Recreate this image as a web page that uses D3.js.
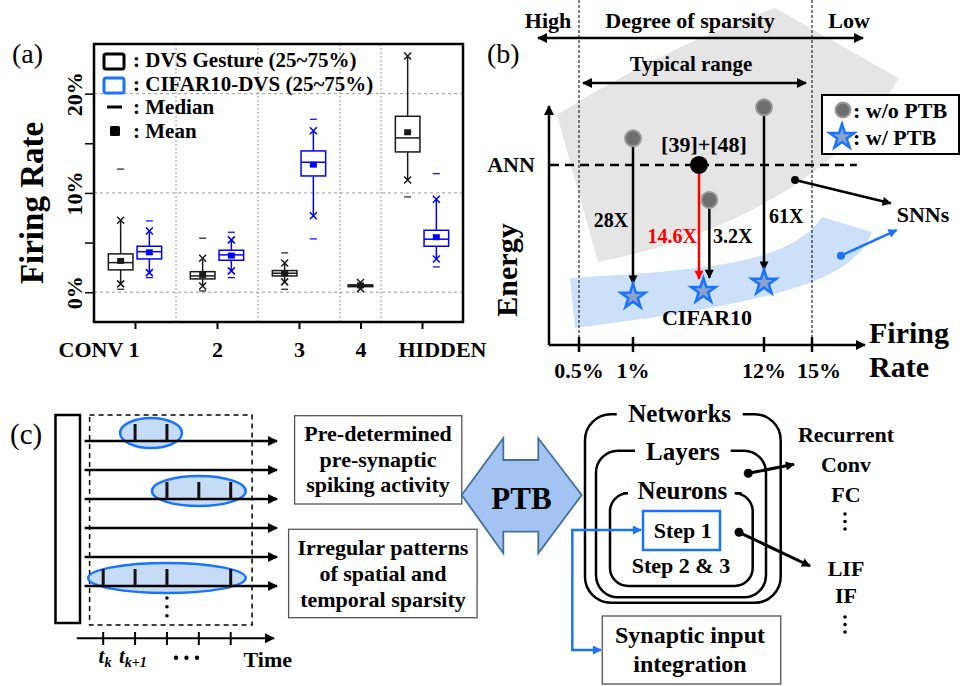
<!DOCTYPE html>
<html>
<head>
<meta charset="utf-8">
<script src="https://cdn.jsdelivr.net/npm/d3@7"></script>
<style>
  body { margin: 0; background: #fff; }
  svg text { font-family: "Liberation Serif", "Times New Roman", serif; }
</style>
</head>
<body>
<div id="chart"></div>
<script>
// ---------- panel (a): firing rate (%) per layer ----------
const layers = ["CONV 1", "2", "3", "4", "HIDDEN"];
const yTicksA = [0, 5, 10, 15, 20];
const yLabelsA = [0, 10, 20];
// per layer: [min dash, whisker low, q1, median, q3, whisker high, max dash, mean]
const dvsGesture = [
  [0.3, 0.84, 2.25, 2.98, 3.86, 7.25, 12.4, 3.15],
  [0.13, 0.63, 1.34, 1.64, 2.07, 3.42, 5.44, 1.74],
  [0.3, 1.04, 1.64, 1.91, 2.18, 2.95, 3.96, 1.91],
  [null, 0.36, 0.56, 0.65, 0.74, 0.97, null, 0.68],
  [9.6, 11.31, 14.13, 15.54, 17.72, 23.79, null, 16.11]
];
const cifar10Dvs = [
  [1.47, 1.97, 3.35, 4.08, 4.63, 6.17, 7.18, 4.02],
  [1.47, 2.15, 3.22, 3.76, 4.23, 5.27, 6.04, 3.69],
  [5.37, 7.71, 11.71, 13.09, 14.23, 16.27, 17.42, 12.85],
  null,
  [2.55, 3.35, 4.63, 5.34, 6.24, 9.37, 11.94, 5.54]
];

// ---------- panel (b): energy vs firing rate (schematic) ----------
const rateTicks = [0.5, 1, 12, 15];
const annEnergy = 7.6;
const priorWork = { rate: 6.54, energy: 7.6, label: "[39]+[48]" };
const withoutPTB = [{ rate: 1, energy: 8.72 }, { rate: 7.41, energy: 6.12 }, { rate: 12, energy: 10.03 }];
const withPTB = [{ rate: 1, energy: 2.04 }, { rate: 6.91, energy: 2.28 }, { rate: 12, energy: 2.63 }];
const gains = ["28X", "3.2X", "61X"];
const priorGain = "14.6X";
// band outlines in (rate, energy) units
const grayBand = [[0.296, 9.7], [3.27, 12.45], [12.69, 14.22], [20.4, 11.27], [18, 8.23], [11.66, 4.85], [0.676, 3.5]];
const blueBand = [[0.417, 2.83], [6.63, 3.16], [13.625, 3.38], [15.625, 5.4], [18.75, 4.77], [17.69, 2.95], [14.25, 1.9], [0.463, 0.72]];

// ---------- panel (c): spike raster + hierarchy ----------
const timeSteps = [0, 1, 2, 3, 4];
const spikeRows = [[1, 2], [], [2, 3, 4], [], [], [0, 1, 2, 4]];
const layerTypes = ["Recurrent", "Conv", "FC"];
const neuronTypes = ["LIF", "IF"];

const BLUE = "#1a73ff";

const svg = d3.select("#chart").append("svg")
  .attr("width", 962).attr("height", 686);

const defs = svg.append("defs");
function arrowMarker(id, color, len, wid) {
  defs.append("marker")
    .attr("id", id)
    .attr("viewBox", "0 0 10 10")
    .attr("refX", 9).attr("refY", 5)
    .attr("markerWidth", len).attr("markerHeight", wid)
    .attr("markerUnits", "userSpaceOnUse")
    .attr("orient", "auto-start-reverse")
    .append("path").attr("d", "M0,0L10,5L0,10Z").attr("fill", color);
}
arrowMarker("ab", "#000", 13, 10);
arrowMarker("abs", "#000", 11, 9);
arrowMarker("ar", "#ff0000", 11, 9);
arrowMarker("abl", BLUE, 11, 9);

function label(g, x, y, str, size, anchor, opt) {
  opt = opt || {};
  const t = g.append("text")
    .attr("x", x).attr("y", y)
    .attr("font-size", size)
    .attr("text-anchor", anchor || "middle")
    .attr("font-weight", opt.weight || "bold")
    .attr("fill", opt.fill || "#000")
    .text(str);
  if (opt.rotate) t.attr("transform", "rotate(" + opt.rotate + "," + x + "," + y + ")");
  return t;
}

function arrow(g, x1, y1, x2, y2, opt) {
  opt = opt || {};
  const l = g.append("line")
    .attr("x1", x1).attr("y1", y1).attr("x2", x2).attr("y2", y2)
    .attr("stroke", opt.color || "#000")
    .attr("stroke-width", opt.width || 2.5)
    .attr("marker-end", "url(#" + (opt.marker || "ab") + ")");
  if (opt.both) l.attr("marker-start", "url(#" + (opt.marker || "ab") + ")");
  return l;
}

// =================== PANEL (a) ===================
const gA = svg.append("g");
label(gA, 12, 63, "(a)", 28, "start", { weight: "normal" });

const series = [
  { name: "DVS Gesture", color: "#1a1a1a", values: dvsGesture },
  { name: "CIFAR10-DVS", color: "#0000ff", values: cifar10Dvs }
];
const slots = layers.map((l, i) => series.filter(s => s.values[i]).length);
const slotStart = [0];
slots.forEach((s, i) => slotStart.push(slotStart[i] + s));

const xA = d3.scaleLinear().domain([0, d3.sum(slots)]).range([94, 463]);
const yA = d3.scaleLinear().domain([-3, 25]).range([322, 44]);
const centers = layers.map((l, i) => slotStart[i] + slots[i] / 2);

// grid
gA.selectAll(".hgrid").data(yLabelsA).join("line")
  .attr("x1", xA(0)).attr("x2", xA(d3.sum(slots)))
  .attr("y1", d => yA(d)).attr("y2", d => yA(d))
  .attr("stroke", "#9a9a9a").attr("stroke-width", 1).attr("stroke-dasharray", "3,3");
gA.selectAll(".vgrid").data(slotStart.slice(1, -1)).join("line")
  .attr("x1", d => xA(d)).attr("x2", d => xA(d))
  .attr("y1", yA.range()[1]).attr("y2", yA.range()[0])
  .attr("stroke", "#9a9a9a").attr("stroke-width", 1).attr("stroke-dasharray", "2,2");

// axes
const xAxisA = d3.axisBottom(xA).tickValues(centers).tickSize(7).tickFormat((d, i) => layers[i]);
const gx = gA.append("g").attr("transform", "translate(0,322)").call(xAxisA);
gx.select(".domain").remove();
gx.selectAll("line").attr("stroke", "#000").attr("stroke-width", 2);
gx.selectAll("text")
  .attr("y", 35).attr("dy", 0)
  .attr("font-size", 22).attr("font-weight", "bold").attr("fill", "#000");
gx.selectAll("text").filter((d, i) => i === 0).attr("text-anchor", "end").attr("dx", 4);
gx.selectAll("text").filter((d, i) => i === layers.length - 1).attr("text-anchor", "start").attr("dx", -24);

const yAxisA = d3.axisLeft(yA).tickValues(yTicksA).tickSize(9).tickFormat("");
const gy = gA.append("g").attr("transform", "translate(94,0)").call(yAxisA);
gy.select(".domain").remove();
gy.selectAll("line").attr("stroke", "#000").attr("stroke-width", 1.5);
gy.selectAll(".tick").filter(d => yLabelsA.includes(d))
  .append("text")
  .attr("transform", "translate(-12,0) rotate(-90)")
  .attr("text-anchor", "middle")
  .attr("font-size", 22).attr("font-weight", "bold").attr("fill", "#000")
  .text(d => d + "%");

gA.append("rect")
  .attr("x", xA(0)).attr("y", yA.range()[1])
  .attr("width", xA(d3.sum(slots)) - xA(0)).attr("height", yA.range()[0] - yA.range()[1])
  .attr("fill", "none").attr("stroke", "#000").attr("stroke-width", 2.5);

label(gA, 43, 203, "Firing Rate", 33, "middle", { rotate: -90 });

// boxes
const bw = xA(0.6) - xA(0);
function cross(g, x, y, color) {
  const s = 3.5;
  g.append("path")
    .attr("d", `M${x - s},${y - s}L${x + s},${y + s}M${x - s},${y + s}L${x + s},${y - s}`)
    .attr("stroke", color).attr("stroke-width", 1.5).attr("fill", "none");
}
layers.forEach((layer, i) => {
  const present = series.filter(s => s.values[i]);
  present.forEach((s, k) => {
    const off = present.length === 2 ? (k === 0 ? -0.35 : 0.35) : 0;
    const cx = xA(centers[i] + off);
    const [lo, wLo, q1, med, q3, wHi, hi, mean] = s.values[i];
    const g = gA.append("g").attr("stroke", s.color).attr("fill", "none").attr("stroke-width", 1.5);
    g.append("line").attr("x1", cx).attr("x2", cx).attr("y1", yA(wHi)).attr("y2", yA(q3));
    g.append("line").attr("x1", cx).attr("x2", cx).attr("y1", yA(q1)).attr("y2", yA(wLo));
    g.append("rect")
      .attr("x", cx - bw / 2).attr("y", yA(q3))
      .attr("width", bw).attr("height", yA(q1) - yA(q3));
    g.append("line").attr("x1", cx - bw / 2).attr("x2", cx + bw / 2).attr("y1", yA(med)).attr("y2", yA(med));
    g.append("rect")
      .attr("x", cx - 3.5).attr("y", yA(mean) - 3)
      .attr("width", 7).attr("height", 6)
      .attr("fill", s.color).attr("stroke", "none");
    cross(g, cx, yA(wHi), s.color);
    cross(g, cx, yA(wLo), s.color);
    [lo, hi].filter(v => v != null).forEach(v => {
      g.append("line").attr("x1", cx - 3.5).attr("x2", cx + 3.5)
        .attr("y1", yA(v)).attr("y2", yA(v)).attr("stroke-width", 1.2);
    });
  });
});

// legend (a)
gA.append("rect").attr("x", 104).attr("y", 54).attr("width", 20).attr("height", 15).attr("rx", 2)
  .attr("fill", "none").attr("stroke", "#000").attr("stroke-width", 3);
gA.append("rect").attr("x", 104).attr("y", 78).attr("width", 20).attr("height", 15).attr("rx", 2)
  .attr("fill", "none").attr("stroke", BLUE).attr("stroke-width", 3);
gA.append("line").attr("x1", 107).attr("x2", 122).attr("y1", 107).attr("y2", 107)
  .attr("stroke", "#000").attr("stroke-width", 3);
gA.append("rect").attr("x", 110).attr("y", 126).attr("width", 10).attr("height", 10).attr("rx", 1.5).attr("fill", "#000");
label(gA, 133, 67, ": DVS Gesture (25~75%)", 21, "start");
label(gA, 133, 90.5, ": CIFAR10-DVS (25~75%)", 21, "start");
label(gA, 133, 114, ": Median", 21, "start");
label(gA, 133, 137.5, ": Mean", 21, "start");

// =================== PANEL (b) ===================
const gB = svg.append("g");
const xB = d3.scaleLinear().domain(rateTicks).range([579, 633, 764, 812]);
const yB = d3.scaleLinear().domain([0, 10]).range([345, 108]);
const P = p => xB(p[0]) + "," + yB(p[1]);

gB.append("path")
  .attr("d", `M${P(grayBand[0])}Q${P(grayBand[1])} ${P(grayBand[2])}L${P(grayBand[3])}C${P(grayBand[4])} ${P(grayBand[5])} ${P(grayBand[6])}Z`)
  .attr("fill", "#e5e5e5");
gB.append("path")
  .attr("d", `M${P(blueBand[0])}C${P(blueBand[1])} ${P(blueBand[2])} ${P(blueBand[3])}L${P(blueBand[4])}C${P(blueBand[5])} ${P(blueBand[6])} ${P(blueBand[7])}Z`)
  .attr("fill", "#cde0fa");

label(gB, 487, 63, "(b)", 28, "start", { weight: "normal" });

// range guides
[rateTicks[0], rateTicks[3]].forEach(r => {
  gB.append("line").attr("x1", xB(r)).attr("x2", xB(r)).attr("y1", 0).attr("y2", yB(0))
    .attr("stroke", "#000").attr("stroke-width", 1).attr("stroke-dasharray", "3,2");
});
label(gB, 548, 28, "High", 22, "middle");
label(gB, 690, 28, "Degree of sparsity", 22, "middle");
label(gB, 849, 28, "Low", 22, "middle");
arrow(gB, 538, 38, 863, 38, { both: true });
label(gB, 691, 71, "Typical range", 21, "middle");
arrow(gB, xB(rateTicks[0]) + 4, 83, xB(rateTicks[3]) - 6, 83, { both: true });

// axes
arrow(gB, 549, yB(0), 549, 106);
arrow(gB, 549, yB(0), 865, yB(0));
gB.selectAll(".btick").data(rateTicks).join("line")
  .attr("x1", d => xB(d)).attr("x2", d => xB(d))
  .attr("y1", yB(0) - 8).attr("y2", yB(0) + 7)
  .attr("stroke", "#000").attr("stroke-width", 2.5);
gB.selectAll(".blab").data(rateTicks).join("text")
  .attr("x", (d, i) => xB(d) + (i === 3 ? 7 : 0)).attr("y", 378)
  .attr("text-anchor", "middle").attr("font-size", 22).attr("font-weight", "bold")
  .text(d => d + "%");
label(gB, 517, 270, "Energy", 30, "middle", { rotate: -90 });
label(gB, 869, 343, "Firing", 30, "start");
label(gB, 869, 377, "Rate", 30, "start");

// ANN reference
gB.append("line").attr("x1", 550).attr("x2", xB(17.8))
  .attr("y1", yB(annEnergy)).attr("y2", yB(annEnergy))
  .attr("stroke", "#000").attr("stroke-width", 2.5).attr("stroke-dasharray", "9,6");
label(gB, 511, 172, "ANN", 22, "middle");

// reduction arrows
withoutPTB.forEach((d, i) => {
  arrow(gB, xB(d.rate), yB(d.energy), xB(d.rate), yB(withPTB[i].energy) - 13, { marker: "abs" });
});
arrow(gB, xB(priorWork.rate), yB(priorWork.energy), xB(priorWork.rate), yB(withPTB[1].energy) - 12,
  { color: "#ff0000", marker: "ar" });

label(gB, 611, 227, gains[0], 20, "middle");
label(gB, 713, 243, gains[1], 20, "start");
label(gB, 769, 223, gains[2], 20, "start");
label(gB, 697, 243, priorGain, 20, "end", { fill: "#ff0000" });

const star = d3.symbol().type(d3.symbolStar).size(190);
gB.selectAll(".gdot").data(withoutPTB).join("circle")
  .attr("cx", d => xB(d.rate)).attr("cy", d => yB(d.energy)).attr("r", 8)
  .attr("fill", "#6e6e6e").attr("stroke", "#9a9a9a").attr("stroke-width", 2);
gB.append("circle").attr("cx", xB(priorWork.rate)).attr("cy", yB(priorWork.energy)).attr("r", 9).attr("fill", "#000");
label(gB, 704, 152, priorWork.label, 22, "middle");
gB.selectAll(".star").data(withPTB).join("path")
  .attr("d", star)
  .attr("transform", d => `translate(${xB(d.rate)},${yB(d.energy)})`)
  .attr("fill", "#8aa3c6").attr("stroke", BLUE).attr("stroke-width", 2.5);
label(gB, 707, 325, "CIFAR10", 22, "middle");

// SNN pointers
gB.append("circle").attr("cx", xB(13.94)).attr("cy", yB(6.96)).attr("r", 4).attr("fill", "#000");
arrow(gB, xB(13.94), yB(6.96), xB(19.92), yB(5.98), { marker: "abs" });
gB.append("circle").attr("cx", xB(16.81)).attr("cy", yB(3.77)).attr("r", 4).attr("fill", BLUE);
arrow(gB, xB(16.81), yB(3.77), xB(20.29), yB(4.85), { color: BLUE, marker: "abl" });
label(gB, 923, 222, "SNNs", 22, "middle");

// legend (b)
gB.append("rect").attr("x", 822).attr("y", 95).attr("width", 137).attr("height", 59)
  .attr("fill", "#fff").attr("stroke", "#000").attr("stroke-width", 2);
gB.append("circle").attr("cx", 843).attr("cy", 110).attr("r", 7.5)
  .attr("fill", "#6e6e6e").attr("stroke", "#9a9a9a").attr("stroke-width", 2);
gB.append("path").attr("d", star).attr("transform", "translate(842,137)")
  .attr("fill", "#8aa3c6").attr("stroke", BLUE).attr("stroke-width", 2.5);
label(gB, 853, 118, ": w/o PTB", 22, "start");
label(gB, 853, 145, ": w/ PTB", 22, "start");

// =================== PANEL (c) ===================
const gC = svg.append("g");
label(gC, 10, 444, "(c)", 29, "start", { weight: "normal" });

const xT = d3.scaleLinear().domain([0, 4]).range([103.2, 230.7]);
const yR = d3.scaleLinear().domain([0, spikeRows.length - 1]).range([441, 586]);

gC.append("rect").attr("x", 55.5).attr("y", 415).attr("width", 24.5).attr("height", 208)
  .attr("fill", "#fff").attr("stroke", "#000").attr("stroke-width", 2.5);
gC.append("rect").attr("x", 89.6).attr("y", 415).attr("width", 162.5).attr("height", 210)
  .attr("fill", "none").attr("stroke", "#000").attr("stroke-width", 1.5).attr("stroke-dasharray", "5,4");

spikeRows.forEach((row, r) => {
  const y = yR(r);
  if (row.length) {
    const a = xT(d3.min(row)), b = xT(d3.max(row));
    gC.append("ellipse")
      .attr("cx", (a + b) / 2).attr("cy", y - 8)
      .attr("rx", (b - a) / 2 + 15).attr("ry", 15)
      .attr("fill", "#c6dbf6").attr("stroke", BLUE).attr("stroke-width", 2.5);
  }
  arrow(gC, 84.6, y, 277, y, { width: 2.5 });
  row.forEach(t => {
    gC.append("line").attr("x1", xT(t)).attr("x2", xT(t)).attr("y1", y).attr("y2", y - 17)
      .attr("stroke", "#111").attr("stroke-width", 3);
  });
});
[598, 606.7, 615.7].forEach(y => gC.append("circle").attr("cx", xT(2)).attr("cy", y).attr("r", 1.8).attr("fill", "#000"));

// time axis
arrow(gC, 76.8, 638.3, 274, 638.3, { width: 2 });
gC.selectAll(".tt").data(timeSteps).join("line")
  .attr("x1", d => xT(d)).attr("x2", d => xT(d)).attr("y1", 632).attr("y2", 645)
  .attr("stroke", "#000").attr("stroke-width", 2);
const tk = gC.append("text").attr("x", 98.6).attr("y", 663).attr("font-size", 21)
  .attr("font-weight", "bold").attr("font-style", "italic");
tk.append("tspan").text("t");
tk.append("tspan").attr("font-size", 14).attr("dy", 4).text("k");
const tk1 = gC.append("text").attr("x", 118.9).attr("y", 663).attr("font-size", 21)
  .attr("font-weight", "bold").attr("font-style", "italic");
tk1.append("tspan").text("t");
tk1.append("tspan").attr("font-size", 14).attr("dy", 4).text("k+1");
[176, 186.5, 197].forEach(x => gC.append("circle").attr("cx", x).attr("cy", 657.7).attr("r", 2.2).attr("fill", "#000"));
label(gC, 243.6, 666.7, "Time", 22, "start");

// text boxes
gC.append("rect").attr("x", 294.6).attr("y", 415.7).attr("width", 167.2).attr("height", 88.3)
  .attr("fill", "#fff").attr("stroke", "#555").attr("stroke-width", 1.3);
["Pre-determined", "pre-synaptic", "spiking activity"].forEach((s, i) =>
  label(gC, 378, [441, 467.3, 492.3][i], s, 22, "middle"));
gC.append("rect").attr("x", 288.6).attr("y", 529.3).attr("width", 188.5).attr("height", 88.4)
  .attr("fill", "#fff").attr("stroke", "#555").attr("stroke-width", 1.3);
["Irregular patterns", "of spatial and", "temporal sparsity"].forEach((s, i) =>
  label(gC, 383, [555, 581, 606.7][i], s, 22, "middle"));

// PTB double block arrow
gC.append("path")
  .attr("d", "M461.7,495L503.3,438.3V460H538.3V438.3L581.7,495L538.3,553.3V531.7H503.3V553.3Z")
  .attr("fill", "#a3c3f2").attr("stroke", "#41719c").attr("stroke-width", 1.8).attr("stroke-linejoin", "miter");
label(gC, 521.5, 509.3, "PTB", 31, "middle");

// nested hierarchy
function gapRect(x0, y0, x1, y1, r, gl, gr) {
  return `M${gr},${y0}H${x1 - r}A${r},${r} 0 0 1 ${x1},${y0 + r}V${y1 - r}A${r},${r} 0 0 1 ${x1 - r},${y1}` +
    `H${x0 + r}A${r},${r} 0 0 1 ${x0},${y1 - r}V${y0 + r}A${r},${r} 0 0 1 ${x0 + r},${y0}H${gl}`;
}
const nest = [
  { name: "Networks", box: [585, 414.3, 780.7, 602.7], r: 26, gap: [616.7, 742.7], base: 421.7, size: 25 },
  { name: "Layers", box: [596, 450.7, 766, 597.3], r: 22, gap: [635, 730.7], base: 460, size: 25 },
  { name: "Neurons", box: [610, 493.3, 752.7, 586], r: 18, gap: [623, 741.7], base: 499, size: 25 }
];
nest.forEach(n => {
  gC.append("path").attr("d", gapRect(...n.box, n.r, ...n.gap))
    .attr("fill", "none").attr("stroke", "#000").attr("stroke-width", 2.5);
  label(gC, (n.gap[0] + n.gap[1]) / 2, n.base, n.name, n.size, "middle");
});
gC.append("rect").attr("x", 643).attr("y", 511).attr("width", 77).attr("height", 39)
  .attr("fill", "#fff").attr("stroke", BLUE).attr("stroke-width", 2.5);
label(gC, 682.7, 538.3, "Step 1", 22, "middle");
label(gC, 681, 573.3, "Step 2 & 3", 22, "middle");

gC.append("circle").attr("cx", 748.3).attr("cy", 473.3).attr("r", 4.5).attr("fill", "#000");
arrow(gC, 748.3, 473.3, 794, 464.3, { marker: "abs", width: 3 });
gC.append("circle").attr("cx", 739).attr("cy", 532.3).attr("r", 4.5).attr("fill", "#000");
arrow(gC, 739, 532.3, 810, 566, { marker: "abs", width: 3 });

layerTypes.forEach((s, i) => label(gC, 846, [441.7, 471.7, 501.7][i], s, 22, "middle"));
neuronTypes.forEach((s, i) => label(gC, 846, [576, 603.3][i], s, 22, "middle"));
[[514, 521.5, 529], [617, 624.5, 632]].forEach(col =>
  col.forEach(y => gC.append("circle").attr("cx", 845).attr("cy", y).attr("r", 1.8).attr("fill", "#000")));

gC.append("rect").attr("x", 602.3).attr("y", 616).attr("width", 178.4).attr("height", 68)
  .attr("fill", "#fff").attr("stroke", "#666").attr("stroke-width", 1.5);
label(gC, 690, 643.3, "Synaptic input", 24, "middle");
label(gC, 690, 671.7, "integration", 24, "middle");

// blue connector
gC.append("path").attr("d", "M641,530H572.3V650H601")
  .attr("fill", "none").attr("stroke", BLUE).attr("stroke-width", 2.5)
  .attr("marker-start", "url(#abl)").attr("marker-end", "url(#abl)");
</script>
</body>
</html>
